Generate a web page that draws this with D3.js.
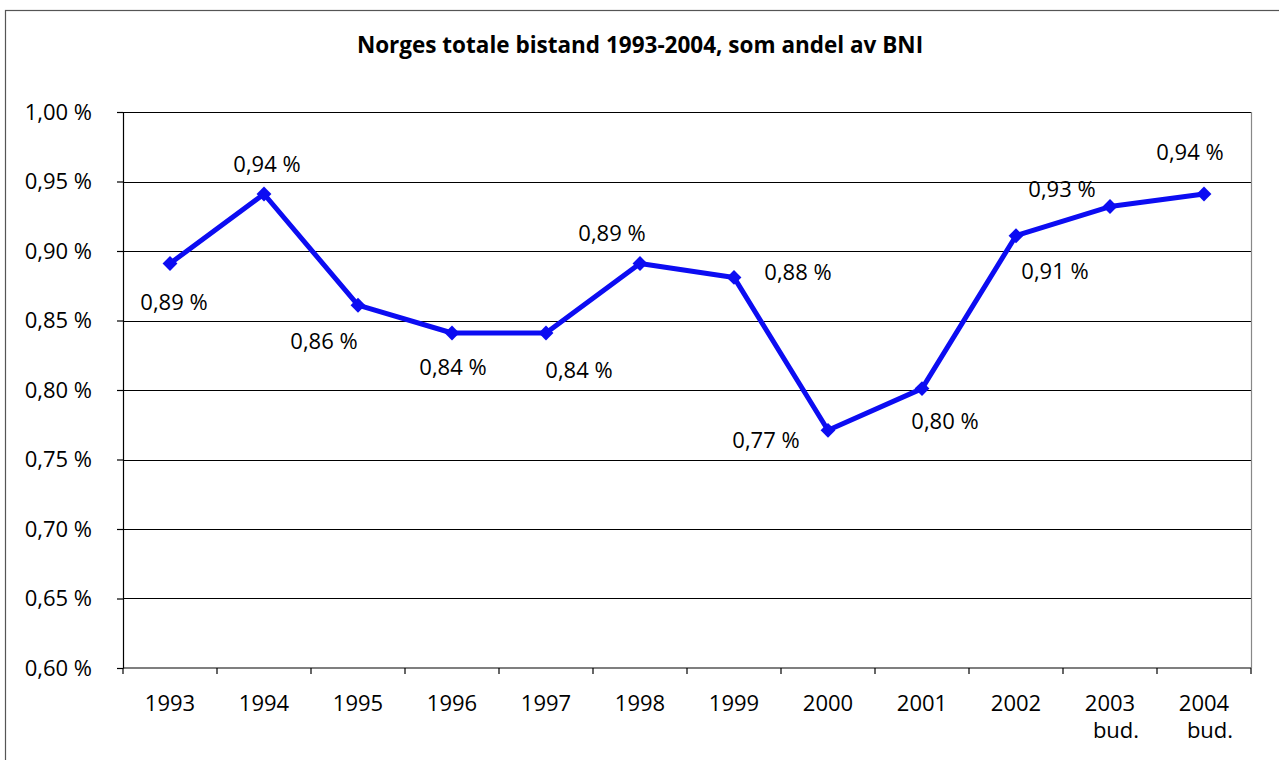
<!DOCTYPE html>
<meta charset="utf-8">
<style>
body { margin: 0; background: #fff; }
text { font-family: "Open Sans", "Noto Sans", sans-serif; fill: #000; }
.grid line { stroke: #000; stroke-width: 1.2px; }
.axis path, .axis line { stroke: #000; stroke-width: 1.2px; }
.axis text, .yr { font-size: 22px; }
.title { font-size: 22.5px; font-weight: bold; }
.lbl { font-size: 22px; }
</style>
<body>
<script src="https://cdn.jsdelivr.net/npm/d3@7"></script>
<script>

var years = ["1993", "1994", "1995", "1996", "1997", "1998", "1999", "2000", "2001", "2002", "2003", "2004"];
var yearNotes = ["", "", "", "", "", "", "", "", "", "", "bud.", "bud."];
var share = [0.891, 0.941, 0.861, 0.841, 0.841, 0.891, 0.881, 0.771, 0.801, 0.911, 0.932, 0.941];
var yTicks = [0.60, 0.65, 0.70, 0.75, 0.80, 0.85, 0.90, 0.95, 1.00];

// where each value label sits relative to its point
var labelOffset = [[4, 37], [3, -31], [-34, 35], [1, 33], [33, 36], [-28, -32],
                   [64, -6], [-62, 9], [23, 31], [39, 34], [-48, -19], [-14, -43]];

var width = 1279,
    height = 760;

var margin = {left: 123, right: 28, top: 112, bottom: 92};

var svg = d3.select("body").append("svg")
    .attr("width", width)
    .attr("height", height);

// outer frame
svg.append("rect")
    .attr("x", 5.5).attr("y", 10.5)
    .attr("width", width + 10).attr("height", height + 10)
    .attr("fill", "none").attr("stroke", "#555").attr("stroke-width", 1.2);

svg.append("text")
    .attr("class", "title")
    .attr("x", 640).attr("y", 53)
    .attr("text-anchor", "middle")
    .text("Norges totale bistand 1993-2004, som andel av BNI");

var x = d3.scaleBand()
    .domain(years)
    .range([margin.left, width - margin.right]);

var y = d3.scaleLinear()
    .domain([0.60, 1.00])
    .range([height - margin.bottom, margin.top]);

var fmt = function(v) { return d3.format(".2f")(v).replace(".", ",") + " %"; };

// grid
svg.append("g").attr("class", "grid")
  .selectAll("line")
  .data(yTicks.slice(1))
  .enter().append("line")
    .attr("x1", margin.left).attr("x2", width - margin.right)
    .attr("y1", function(d) { return Math.round(y(d)) + 0.5; })
    .attr("y2", function(d) { return Math.round(y(d)) + 0.5; });

// right border of plot
svg.append("line")
    .attr("x1", width - margin.right + 0.5).attr("x2", width - margin.right + 0.5)
    .attr("y1", margin.top).attr("y2", height - margin.bottom)
    .attr("stroke", "#888").attr("stroke-width", 1.2);

// y axis
svg.append("g").attr("class", "axis")
    .attr("transform", "translate(" + margin.left + ",0)")
    .call(d3.axisLeft(y).tickValues(yTicks).tickFormat(fmt).tickSize(6).tickSizeOuter(0).tickPadding(25));

// x axis with ticks at band edges
var xAxis = svg.append("g").attr("class", "axis")
    .attr("transform", "translate(0," + (height - margin.bottom) + ")");
xAxis.append("line")
    .attr("x1", margin.left).attr("x2", width - margin.right);
xAxis.selectAll(".edge")
  .data(years.concat(["end"]))
  .enter().append("line")
    .attr("class", "edge")
    .attr("x1", function(d, i) { return margin.left + i * x.bandwidth(); })
    .attr("x2", function(d, i) { return margin.left + i * x.bandwidth(); })
    .attr("y1", 0).attr("y2", 6);
var xt = xAxis.selectAll(".yr")
  .data(years)
  .enter().append("text")
    .attr("class", "yr")
    .attr("text-anchor", "middle")
    .attr("x", function(d) { return x(d) + x.bandwidth() / 2; })
    .attr("y", 43);
xt.append("tspan").text(function(d) { return d; });
xt.append("tspan")
    .attr("x", function(d) { return x(d) + x.bandwidth() / 2 + 6; })
    .attr("dy", 27)
    .text(function(d, i) { return yearNotes[i]; });

// series
var line = d3.line()
    .x(function(d, i) { return x(years[i]) + x.bandwidth() / 2; })
    .y(function(d) { return y(d); });

svg.append("path")
    .datum(share)
    .attr("fill", "none")
    .attr("stroke", "#0c0cf2")
    .attr("stroke-width", 5)
    .attr("stroke-linejoin", "round")
    .attr("d", line);

svg.append("g")
  .selectAll("path")
  .data(share)
  .enter().append("path")
    .attr("d", d3.symbol().type(d3.symbolSquare).size(110))
    .attr("fill", "#0c0cf2")
    .attr("transform", function(d, i) {
      return "translate(" + (x(years[i]) + x.bandwidth() / 2) + "," + y(d) + ") rotate(45)";
    });

svg.append("g")
  .selectAll("text")
  .data(share)
  .enter().append("text")
    .attr("class", "lbl")
    .attr("text-anchor", "middle")
    .attr("dominant-baseline", "central")
    .attr("x", function(d, i) { return x(years[i]) + x.bandwidth() / 2 + labelOffset[i][0]; })
    .attr("y", function(d, i) { return y(d) + labelOffset[i][1]; })
    .text(fmt);

</script>
